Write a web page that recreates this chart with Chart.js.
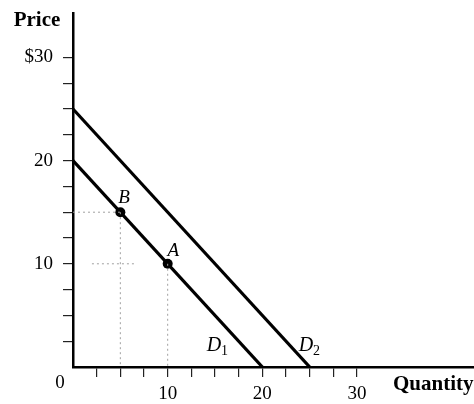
<!DOCTYPE html>
<html><head><meta charset="utf-8">
<script src="https://cdn.jsdelivr.net/npm/chart.js@4"></script>
<style>html,body{margin:0;padding:0;background:#fff}#w{width:474px;height:404px}</style>
</head><body><div id="w"><canvas id="c" width="474" height="404"></canvas></div>
<script>
const d1Points = [{x:0,y:20},{x:20,y:0}];
const d2Points = [{x:0,y:25},{x:25,y:0}];
const markedPoints = [{x:5,y:15,label:'B'},{x:10,y:10,label:'A'}];
const guideB = [[{x:0,y:15},{x:5,y:15}],[{x:5,y:15},{x:5,y:0}]];
const guideA = [[{x:2,y:10},{x:6.5,y:10}],[{x:10,y:10},{x:10,y:0}]];
const yTickLabels = {10:'10',20:'20',30:'$30'};
const xTickLabels = {10:'10',20:'20',30:'30'};
const tickStep = 2.5, tickMax = 30;
const pointLabels = [{x:5.4,y:16.4,t:'B'},{x:10.6,y:11.2,t:'A'}];
const curveLabels = [{x:14.9,y:2.1,t:'D',s:'1'},{x:24.6,y:2.1,t:'D',s:'2'}];

const FONT = '"Liberation Serif", "DejaVu Serif", serif';
const guideStyle = {borderColor:'#a0a0a0',borderWidth:1,borderDash:[2,3],pointRadius:0,showLine:true,fill:false};
const ds = [];
[...guideB,...guideA].forEach(g=>ds.push(Object.assign({data:g},guideStyle)));
ds.push({data:d1Points,showLine:true,borderColor:'#000',borderWidth:3.2,pointRadius:0,fill:false});
ds.push({data:d2Points,showLine:true,borderColor:'#000',borderWidth:3.2,pointRadius:0,fill:false});
ds.push({data:markedPoints,showLine:false,pointStyle:'circle',pointRadius:5,pointBorderWidth:0,pointBackgroundColor:'#000',pointBorderColor:'#000'});

function filt(scale){scale.ticks = scale.ticks.filter(t=>t.value>0 && t.value<=tickMax+1e-9);}

const textPlugin = {
  id:'texts',
  afterDraw(chart){
    const {ctx, scales:{x,y}} = chart;
    ctx.save();
    ctx.fillStyle='#000';
    ctx.textBaseline='middle';
    ctx.font='italic 19px '+FONT;
    ctx.textAlign='center';
    pointLabels.forEach(p=>ctx.fillText(p.t,x.getPixelForValue(p.x),y.getPixelForValue(p.y)));
    curveLabels.forEach(p=>{
      const px=x.getPixelForValue(p.x), py=y.getPixelForValue(p.y);
      ctx.font='italic 20px '+FONT; ctx.textAlign='center';
      ctx.fillText(p.t,px,py);
      ctx.font='14px '+FONT; ctx.textAlign='left';
      ctx.fillText(p.s,px+7,py+6);
    });
    ctx.font='bold 21px '+FONT;
    ctx.textAlign='center';
    ctx.fillText('Price',37,21);
    ctx.textAlign='left';
    ctx.fillText('Quantity',393,385);
    ctx.font='19px '+FONT;
    ctx.textAlign='center';
    ctx.fillText('0',60,383);
    ctx.restore();
  }
};

new Chart(document.getElementById('c'),{
  type:'scatter',
  data:{datasets:ds},
  options:{
    responsive:false,animation:false,
    layout:{autoPadding:false,padding:{top:13,right:0,left:0,bottom:0}},
    plugins:{legend:{display:false},tooltip:{enabled:false}},
    scales:{
      x:{type:'linear',min:0,max:42.35,
        afterBuildTicks:filt,
        afterFit(s){s.height=37;s.paddingRight=0;s.paddingLeft=0;},
        ticks:{stepSize:tickStep,autoSkip:false,maxRotation:0,color:'#000',padding:6,
          font:{family:FONT,size:19},
          callback:v=>xTickLabels[v]||''},
        grid:{drawOnChartArea:false,drawTicks:true,tickLength:10,color:'#222',lineWidth:1.2},
        border:{display:true,color:'#000',width:2.5}},
      y:{type:'linear',min:0,max:34.3,
        afterBuildTicks:filt,
        afterFit(s){s.width=73;s.paddingTop=0;s.paddingBottom=0;},
        ticks:{stepSize:tickStep,autoSkip:false,color:'#000',padding:10,
          font:{family:FONT,size:19},
          callback:v=>yTickLabels[v]||''},
        grid:{drawOnChartArea:false,drawTicks:true,tickLength:10,color:'#222',lineWidth:1.2},
        border:{display:true,color:'#000',width:2.5}}
    }
  },
  plugins:[textPlugin]
});
</script></body></html>
